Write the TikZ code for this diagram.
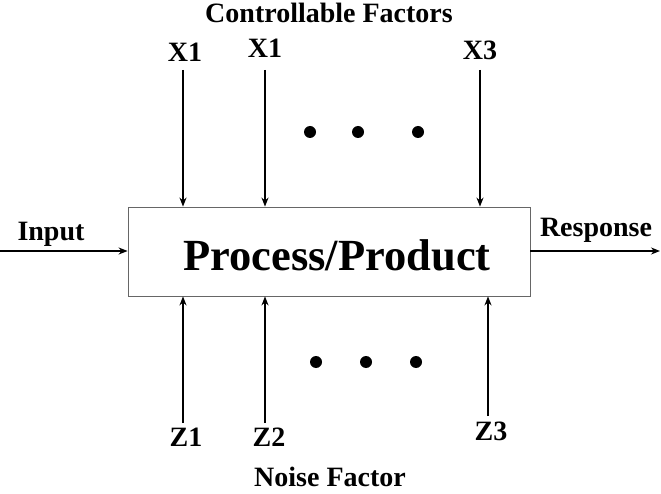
\documentclass[tikz,border=0pt]{standalone}
\usepackage{fontspec}
\setmainfont{Liberation Serif}
\usetikzlibrary{arrows.meta}
\begin{document}
\begin{tikzpicture}[x=1pt,y=-1pt,
  lbl/.style={font=\bfseries\fontsize{28}{30}\selectfont, inner sep=0pt},
  arr/.style={line width=1.8pt, -{Stealth[length=9pt,width=7pt]}},
  dot/.style={circle, fill=black, inner sep=0pt, minimum size=12pt}]
\useasboundingbox (0,0) rectangle (661,494);
\node[draw=black!60, line width=0.8pt, minimum width=402pt, minimum height=89pt, inner sep=0pt] (box) at (329,251.5) {};
\node[font=\bfseries\fontsize{44.5}{47}\selectfont] (pp) at (337,255) {Process/Product};
\node[lbl] (cf) at (329,13) {Controllable Factors};
\node[lbl] (x1) at (185,52) {X1};
\node[lbl] (x2) at (265,48) {X1};
\node[lbl] (x3) at (480,50) {X3};
\coordinate (tx1) at (183,70);
\coordinate (tx2) at (265,70);
\coordinate (tx3) at (480,70);
\draw[arr] (tx1) -- (tx1 |- box.north);
\draw[arr] (tx2) -- (tx2 |- box.north);
\draw[arr] (tx3) -- (tx3 |- box.north);
\node[dot] (d1) at (310,132) {};
\node[dot] (d2) at (358,132) {};
\node[dot] (d3) at (418,132) {};
\node[dot] (d4) at (316,362) {};
\node[dot] (d5) at (366,362) {};
\node[dot] (d6) at (416,362) {};
\coordinate (bz1) at (183,423);
\coordinate (bz2) at (265,423);
\coordinate (bz3) at (488,416);
\draw[arr] (bz1) -- (bz1 |- box.south);
\draw[arr] (bz2) -- (bz2 |- box.south);
\draw[arr] (bz3) -- (bz3 |- box.south);
\node[lbl] (z1) at (186,437) {Z1};
\node[lbl] (z2) at (269,437) {Z2};
\node[lbl] (z3) at (491,431) {Z3};
\node[lbl] (nf) at (330,477) {Noise Factor};
\node[lbl] (in) at (51,234) {Input};
\node[lbl] (re) at (596,230) {Response};
\coordinate (inl) at (0,251);
\coordinate (rer) at (660,251);
\draw[arr] (inl) -- (inl -| box.west);
\draw[arr] (box.east |- rer) -- (rer);
\end{tikzpicture}
\end{document}
